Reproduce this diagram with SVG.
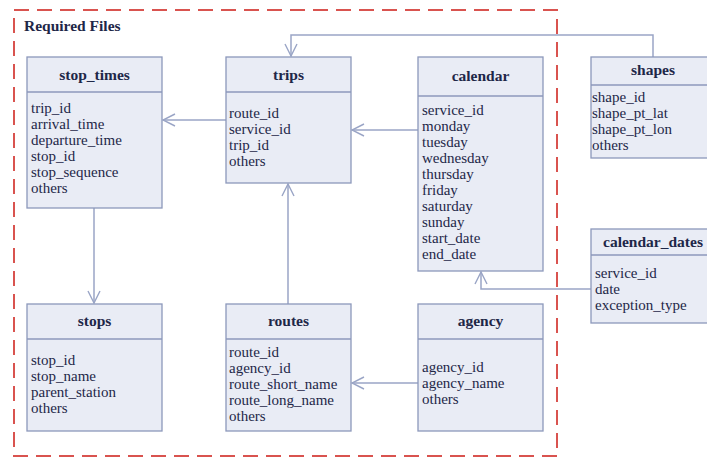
<svg xmlns="http://www.w3.org/2000/svg" width="707" height="458" viewBox="0 0 707 458">
<defs>
<style>
.box{fill:#e9ecf5;stroke:#8c98bb;stroke-width:1.3}
.hdr{stroke:#8c98bb;stroke-width:1.3}
.ttl{font-family:"Liberation Serif",serif;font-weight:bold;font-size:15.5px;fill:#1e2748;text-anchor:middle}
.fld{font-family:"Liberation Serif",serif;font-size:15px;fill:#1e2748}
.con{fill:none;stroke:#9aa5c6;stroke-width:1.5}
</style>
<marker id="arr" viewBox="0 0 14 14" refX="13" refY="7" markerWidth="14" markerHeight="14" markerUnits="userSpaceOnUse" orient="auto">
<path d="M1,1 L13,7 L1,13" fill="none" stroke="#9aa5c6" stroke-width="1.4"/>
</marker>
</defs>
<rect width="707" height="458" fill="#ffffff"/>
<rect x="14" y="10" width="543" height="446" fill="none" stroke="#d9534f" stroke-width="2" stroke-dasharray="15 8"/>
<text x="24" y="31" class="ttl" style="text-anchor:start">Required Files</text>

<g id="connectors">
<path class="con" d="M226,120 H163" marker-end="url(#arr)"/>
<path class="con" d="M418,130 H352" marker-end="url(#arr)"/>
<path class="con" d="M94,208 V303" marker-end="url(#arr)"/>
<path class="con" d="M288,304 V184" marker-end="url(#arr)"/>
<path class="con" d="M418,383 H352" marker-end="url(#arr)"/>
<path class="con" d="M653,57 V35 H291 V56" marker-end="url(#arr)"/>
<path class="con" d="M591,289 H481 V272" marker-end="url(#arr)"/>
</g>

<g id="stop_times">
<rect class="box" x="27" y="57" width="135" height="151"/>
<line class="hdr" x1="27" y1="92" x2="162" y2="92"/>
<text class="ttl" x="94.5" y="80">stop_times</text>
<text class="fld" x="31" y="113">trip_id</text>
<text class="fld" x="31" y="129">arrival_time</text>
<text class="fld" x="31" y="145">departure_time</text>
<text class="fld" x="31" y="161">stop_id</text>
<text class="fld" x="31" y="177">stop_sequence</text>
<text class="fld" x="31" y="193">others</text>
</g>

<g id="trips">
<rect class="box" x="226" y="57" width="125" height="126"/>
<line class="hdr" x1="226" y1="92" x2="351" y2="92"/>
<text class="ttl" x="288.5" y="80">trips</text>
<text class="fld" x="229" y="118">route_id</text>
<text class="fld" x="229" y="134">service_id</text>
<text class="fld" x="229" y="150">trip_id</text>
<text class="fld" x="229" y="166">others</text>
</g>

<g id="calendar">
<rect class="box" x="418" y="57" width="125" height="214"/>
<line class="hdr" x1="418" y1="96" x2="543" y2="96"/>
<text class="ttl" x="480.5" y="81">calendar</text>
<text class="fld" x="422" y="115">service_id</text>
<text class="fld" x="422" y="131">monday</text>
<text class="fld" x="422" y="147">tuesday</text>
<text class="fld" x="422" y="163">wednesday</text>
<text class="fld" x="422" y="179">thursday</text>
<text class="fld" x="422" y="195">friday</text>
<text class="fld" x="422" y="211">saturday</text>
<text class="fld" x="422" y="227">sunday</text>
<text class="fld" x="422" y="243">start_date</text>
<text class="fld" x="422" y="259">end_date</text>
</g>

<g id="shapes">
<rect class="box" x="591" y="57" width="125" height="101"/>
<line class="hdr" x1="591" y1="85" x2="716" y2="85"/>
<text class="ttl" x="653" y="75">shapes</text>
<text class="fld" x="592" y="102">shape_id</text>
<text class="fld" x="592" y="118">shape_pt_lat</text>
<text class="fld" x="592" y="134">shape_pt_lon</text>
<text class="fld" x="592" y="150">others</text>
</g>

<g id="calendar_dates">
<rect class="box" x="591" y="229" width="125" height="94"/>
<line class="hdr" x1="591" y1="255" x2="716" y2="255"/>
<text class="ttl" x="653" y="247">calendar_dates</text>
<text class="fld" x="595" y="278">service_id</text>
<text class="fld" x="595" y="294">date</text>
<text class="fld" x="595" y="310">exception_type</text>
</g>

<g id="stops">
<rect class="box" x="27" y="304" width="135" height="127"/>
<line class="hdr" x1="27" y1="339" x2="162" y2="339"/>
<text class="ttl" x="94.5" y="326">stops</text>
<text class="fld" x="31" y="365">stop_id</text>
<text class="fld" x="31" y="381">stop_name</text>
<text class="fld" x="31" y="397">parent_station</text>
<text class="fld" x="31" y="413">others</text>
</g>

<g id="routes">
<rect class="box" x="226" y="304" width="125" height="127"/>
<line class="hdr" x1="226" y1="339" x2="351" y2="339"/>
<text class="ttl" x="288.5" y="326">routes</text>
<text class="fld" x="229" y="357">route_id</text>
<text class="fld" x="229" y="373">agency_id</text>
<text class="fld" x="229" y="389">route_short_name</text>
<text class="fld" x="229" y="405">route_long_name</text>
<text class="fld" x="229" y="421">others</text>
</g>

<g id="agency">
<rect class="box" x="418" y="304" width="125" height="127"/>
<line class="hdr" x1="418" y1="339" x2="543" y2="339"/>
<text class="ttl" x="480.5" y="326">agency</text>
<text class="fld" x="422" y="372">agency_id</text>
<text class="fld" x="422" y="388">agency_name</text>
<text class="fld" x="422" y="404">others</text>
</g>
</svg>
